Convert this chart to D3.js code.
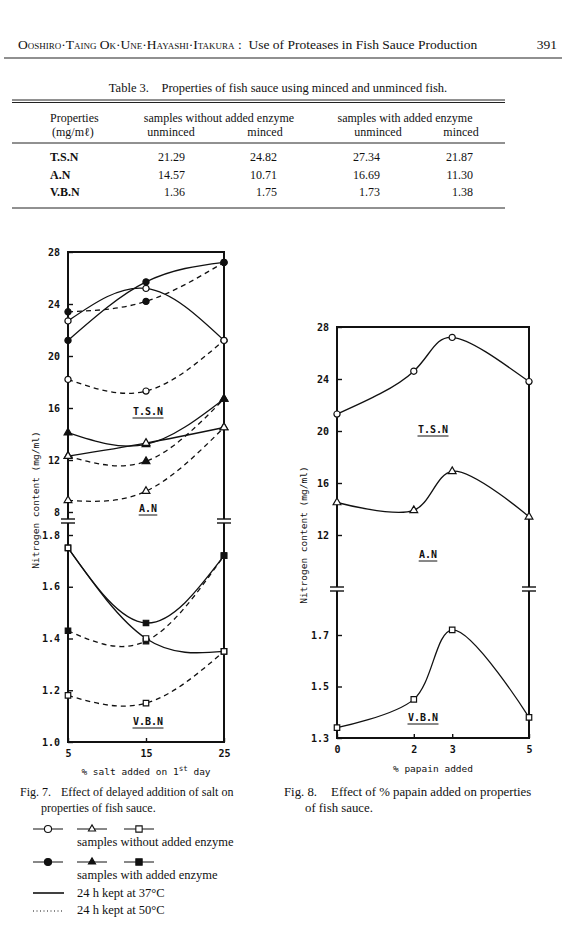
<!DOCTYPE html>
<html>
<head>
<meta charset="utf-8">
<script src="https://cdn.jsdelivr.net/npm/d3@7"></script>
<style>
body { margin: 0; background: #fff; }
text { fill: #111; white-space: pre; }
.serif { font-family: "Liberation Serif", "DejaVu Serif", serif; }
.mono { font-family: "DejaVu Sans Mono", "Liberation Mono", monospace; }
</style>
</head>
<body>
<script>
// ---- table 3 ----
var tableRows = ["T.S.N", "A.N", "V.B.N"];
var withoutUnminced = ["21.29", "14.57", "1.36"];
var withoutMinced = ["24.82", "10.71", "1.75"];
var withUnminced = ["27.34", "16.69", "1.73"];
var withMinced = ["21.87", "11.30", "1.38"];

// ---- fig 7 : % salt added on 1st day ----
var saltX = [5, 15, 25];
var tsnOpen37 = [22.7, 25.2, 21.2];
var tsnFilled37 = [21.2, 25.7, 27.2];
var tsnOpen50 = [18.2, 17.3, 21.2];
var tsnFilled50 = [23.4, 24.2, 27.2];
var anOpen37 = [12.3, 13.3, 14.5];
var anFilled37 = [14.1, 13.2, 16.7];
var anOpen50 = [8.9, 9.6, 14.5];
var anFilled50 = [12.3, 11.9, 16.7];
var vbnOpen37 = [1.75, 1.40, 1.35];
var vbnFilled37 = [1.75, 1.46, 1.72];
var vbnOpen50 = [1.18, 1.15, 1.35];
var vbnFilled50 = [1.43, 1.39, 1.72];
var fig7TopTicks = [8, 12, 16, 20, 24, 28];
var fig7BotTicks = [1.0, 1.2, 1.4, 1.6, 1.8];

// ---- fig 8 : % papain added ----
var papainX = [0, 2, 3, 5];
var tsnPapain = [21.3, 24.6, 27.2, 23.8];
var anPapain = [14.5, 13.9, 16.9, 13.4];
var vbnPapain = [1.34, 1.45, 1.72, 1.38];
var fig8TopTicks = [12, 16, 20, 24, 28];
var fig8BotTicks = [1.3, 1.5, 1.7];

var svg = d3.select("body").append("svg")
  .attr("width", 564)
  .attr("height", 927);

// header
var head = svg.append("text").attr("class", "serif")
  .attr("x", 18).attr("y", 49).style("font-size", "13.5px");
head.append("tspan").style("font-variant", "small-caps").text("Ooshiro·Taing Ok·Une·Hayashi·Itakura");
head.append("tspan").text(" :  Use of Proteases in Fish Sauce Production");
svg.append("text").attr("class", "serif").attr("x", 557).attr("y", 49)
  .attr("text-anchor", "end").style("font-size", "13.5px").text("391");
svg.append("line").attr("x1", 4).attr("x2", 562).attr("y1", 58).attr("y2", 58)
  .attr("stroke", "#222").attr("stroke-width", 1.2);

// table
svg.append("text").attr("class", "serif").attr("x", 278).attr("y", 92)
  .attr("text-anchor", "middle").style("font-size", "12.5px")
  .text("Table 3.    Properties of fish sauce using minced and unminced fish.");
[100, 102.5].forEach(function(y){
  svg.append("line").attr("x1", 12).attr("x2", 505).attr("y1", y).attr("y2", y)
    .attr("stroke", "#222").attr("stroke-width", 1);
});
[143, 208].forEach(function(y){
  svg.append("line").attr("x1", 12).attr("x2", 505).attr("y1", y).attr("y2", y)
    .attr("stroke", "#222").attr("stroke-width", 1);
});
var th = [
  ["Properties", 50, 122, "start"],
  ["(mg/m\u2113)", 52, 136, "start"],
  ["samples without added enzyme", 219, 122, "middle"],
  ["samples with added enzyme", 405, 122, "middle"],
  ["unminced", 171, 136, "middle"],
  ["minced", 265, 136, "middle"],
  ["unminced", 378, 136, "middle"],
  ["minced", 461, 136, "middle"]
];
svg.selectAll("text.th").data(th).enter().append("text")
  .attr("class", "serif th")
  .attr("x", function(d){ return d[1]; })
  .attr("y", function(d){ return d[2]; })
  .attr("text-anchor", function(d){ return d[3]; })
  .style("font-size", "12px")
  .text(function(d){ return d[0]; });

var rowY = d3.scalePoint().domain(tableRows).range([161, 196]);
var colRight = [185, 277, 380, 473];
var cols = [withoutUnminced, withoutMinced, withUnminced, withMinced];
tableRows.forEach(function(r, i){
  svg.append("text").attr("class", "serif").attr("x", 50).attr("y", rowY(r))
    .style("font-size", "12px").style("font-weight", "bold").text(r);
  cols.forEach(function(c, j){
    svg.append("text").attr("class", "serif").attr("x", colRight[j]).attr("y", rowY(r))
      .attr("text-anchor", "end").style("font-size", "12px").text(c[i]);
  });
});

// ---------- chart helpers ----------
function drawFrame(g, x0, x1, yTop, yBot, brk){
  var s = "#111";
  g.append("line").attr("x1", x0).attr("x2", x1).attr("y1", yTop).attr("y2", yTop).attr("stroke", s).attr("stroke-width", 2);
  g.append("line").attr("x1", x0).attr("x2", x1).attr("y1", yBot).attr("y2", yBot).attr("stroke", s).attr("stroke-width", 2);
  [x0, x1].forEach(function(x){
    g.append("line").attr("x1", x).attr("x2", x).attr("y1", yTop - 1).attr("y2", brk).attr("stroke", s).attr("stroke-width", 2);
    g.append("line").attr("x1", x).attr("x2", x).attr("y1", brk + 4).attr("y2", yBot + 1).attr("stroke", s).attr("stroke-width", 2);
    [brk, brk + 4].forEach(function(y){
      g.append("line").attr("x1", x - 7).attr("x2", x + 7).attr("y1", y).attr("y2", y).attr("stroke", s).attr("stroke-width", 1.4);
    });
  });
}

function styleAxis(a){
  a.select(".domain").remove();
  a.selectAll(".tick line").attr("stroke", "#111").attr("stroke-width", 1.4);
  a.selectAll(".tick text").attr("class", "mono").style("font-size", "10px").style("font-weight", "bold").attr("fill", "#222");
}

var symbolSize = { circle: 30, triangle: 26, square: 30 };
var symbolType = { circle: d3.symbolCircle, triangle: d3.symbolTriangle, square: d3.symbolSquare };

function drawSeries(g, xs, vals, xScale, yScale, shape, filled, dashed, curve){
  var pts = xs.map(function(x, i){ return [xScale(x), yScale(vals[i])]; });
  g.append("path").datum(pts)
    .attr("d", d3.line().curve(curve || d3.curveNatural))
    .attr("fill", "none").attr("stroke", "#111").attr("stroke-width", 1.3)
    .attr("stroke-dasharray", dashed ? "5,4" : null);
  return { pts: pts, shape: shape, filled: filled };
}

function drawMarkers(g, list){
  // filled first, open on top
  list.sort(function(a, b){ return (b.filled ? 1 : 0) - (a.filled ? 1 : 0); });
  list.forEach(function(s){
    g.selectAll(null).data(s.pts).enter().append("path")
      .attr("transform", function(d){ return "translate(" + d[0] + "," + d[1] + ")"; })
      .attr("d", d3.symbol().type(symbolType[s.shape]).size(symbolSize[s.shape]))
      .attr("fill", s.filled ? "#111" : "#fff")
      .attr("stroke", "#111").attr("stroke-width", 1.2);
  });
}

function groupLabel(g, x, y, t){
  g.append("text").attr("class", "mono").attr("x", x).attr("y", y)
    .attr("text-anchor", "middle").style("font-size", "10px").style("font-weight", "bold").text(t);
  var w = t.length * 6.2;
  g.append("line").attr("x1", x - w / 2).attr("x2", x + w / 2).attr("y1", y + 3).attr("y2", y + 3)
    .attr("stroke", "#111").attr("stroke-width", 1);
}

// ---------- Fig. 7 ----------
var g7 = svg.append("g");
var x7 = d3.scaleLinear().domain([5, 25]).range([68, 224]);
var y7top = d3.scaleLinear().domain([8, 28]).range([512, 252]);
var y7bot = d3.scaleLinear().domain([1.0, 1.8]).range([742, 535]);

var ax = g7.append("g").attr("transform", "translate(68,0)")
  .call(d3.axisLeft(y7top).tickValues(fig7TopTicks).tickSize(-5).tickPadding(8).tickFormat(d3.format("d")));
styleAxis(ax);
ax = g7.append("g").attr("transform", "translate(68,0)")
  .call(d3.axisLeft(y7bot).tickValues(fig7BotTicks).tickSize(-5).tickPadding(8).tickFormat(d3.format(".1f")));
styleAxis(ax);
ax = g7.append("g").attr("transform", "translate(0,742)")
  .call(d3.axisBottom(x7).tickValues(saltX).tickSize(-4).tickPadding(8).tickFormat(d3.format("d")));
styleAxis(ax);

var m7 = [];
m7.push(drawSeries(g7, saltX, tsnOpen37, x7, y7top, "circle", false, false));
m7.push(drawSeries(g7, saltX, tsnFilled37, x7, y7top, "circle", true, false, d3.curveMonotoneX));
m7.push(drawSeries(g7, saltX, tsnOpen50, x7, y7top, "circle", false, true));
m7.push(drawSeries(g7, saltX, tsnFilled50, x7, y7top, "circle", true, true));
m7.push(drawSeries(g7, saltX, anOpen37, x7, y7top, "triangle", false, false, d3.curveMonotoneX));
m7.push(drawSeries(g7, saltX, anFilled37, x7, y7top, "triangle", true, false));
m7.push(drawSeries(g7, saltX, anOpen50, x7, y7top, "triangle", false, true));
m7.push(drawSeries(g7, saltX, anFilled50, x7, y7top, "triangle", true, true));
m7.push(drawSeries(g7, saltX, vbnOpen37, x7, y7bot, "square", false, false));
m7.push(drawSeries(g7, saltX, vbnFilled37, x7, y7bot, "square", true, false));
m7.push(drawSeries(g7, saltX, vbnOpen50, x7, y7bot, "square", false, true));
m7.push(drawSeries(g7, saltX, vbnFilled50, x7, y7bot, "square", true, true));
drawFrame(g7, 68, 224, 252, 742, 519);
drawMarkers(g7, m7);

groupLabel(g7, 148, 415, "T.S.N");
groupLabel(g7, 148, 512, "A.N");
groupLabel(g7, 148, 725, "V.B.N");

g7.append("text").attr("class", "mono")
  .attr("transform", "translate(39,500) rotate(-90)")
  .attr("text-anchor", "middle").style("font-size", "9.5px")
  .text("Nitrogen content (mg/ml)");
var xl = g7.append("text").attr("class", "mono").attr("x", 146).attr("y", 775)
  .attr("text-anchor", "middle").style("font-size", "9.5px");
xl.append("tspan").text("% salt added on 1");
xl.append("tspan").attr("dy", -4).style("font-size", "7.5px").text("st");
xl.append("tspan").attr("dy", 4).text(" day");

// ---------- Fig. 8 ----------
var g8 = svg.append("g");
var x8 = d3.scaleLinear().domain([0, 5]).range([337, 529]);
var y8top = d3.scaleLinear().domain([8, 28]).range([587, 327]);
var y8bot = d3.scaleLinear().domain([1.3, 1.7]).range([738, 635]);

ax = g8.append("g").attr("transform", "translate(337,0)")
  .call(d3.axisLeft(y8top).tickValues(fig8TopTicks).tickSize(-5).tickPadding(8).tickFormat(d3.format("d")));
styleAxis(ax);
ax = g8.append("g").attr("transform", "translate(337,0)")
  .call(d3.axisLeft(y8bot).tickValues(fig8BotTicks).tickSize(-5).tickPadding(8).tickFormat(d3.format(".1f")));
styleAxis(ax);
ax = g8.append("g").attr("transform", "translate(0,738)")
  .call(d3.axisBottom(x8).tickValues(papainX).tickSize(-4).tickPadding(8).tickFormat(d3.format("d")));
styleAxis(ax);

var m8 = [];
m8.push(drawSeries(g8, papainX, tsnPapain, x8, y8top, "circle", false, false, d3.curveNatural));
m8.push(drawSeries(g8, papainX, anPapain, x8, y8top, "triangle", false, false, d3.curveCatmullRom));
m8.push(drawSeries(g8, papainX, vbnPapain, x8, y8bot, "square", false, false, d3.curveCatmullRom));
drawFrame(g8, 337, 529, 327, 738, 587);
drawMarkers(g8, m8);

groupLabel(g8, 433, 433, "T.S.N");
groupLabel(g8, 428, 558, "A.N");
groupLabel(g8, 423, 721, "V.B.N");

g8.append("text").attr("class", "mono")
  .attr("transform", "translate(307,535) rotate(-90)")
  .attr("text-anchor", "middle").style("font-size", "9.5px")
  .text("Nitrogen content (mg/ml)");
g8.append("text").attr("class", "mono").attr("x", 433).attr("y", 772)
  .attr("text-anchor", "middle").style("font-size", "9.5px").text("% papain added");

// ---------- captions ----------
function caption(x, y, size, parts){
  var t = svg.append("text").attr("class", "serif").attr("x", x).attr("y", y).style("font-size", size);
  parts.forEach(function(p){ t.append("tspan").attr("dx", p[1] || 0).text(p[0]); });
}
caption(20, 796, "12px", [["Fig. 7."], ["Effect of delayed addition of salt on", 10]]);
caption(41, 812, "12px", [["properties of fish sauce."]]);
caption(284, 796, "12.8px", [["Fig. 8."], ["Effect of % papain added on properties", 14]]);
caption(305, 812, "12.8px", [["of fish sauce."]]);

// legend
var legendShapes = ["circle", "triangle", "square"];
var legendX = [48, 92, 139];
var legendRows = [
  { y: 829, filled: false, text: "samples without added enzyme" },
  { y: 862, filled: true, text: "samples with added enzyme" }
];
legendRows.forEach(function(r){
  legendShapes.forEach(function(s, i){
    var cx = legendX[i];
    svg.append("line").attr("x1", cx - 15).attr("x2", cx + 15).attr("y1", r.y).attr("y2", r.y)
      .attr("stroke", "#111").attr("stroke-width", 1);
    svg.append("path").attr("transform", "translate(" + cx + "," + r.y + ")")
      .attr("d", d3.symbol().type(symbolType[s]).size(s === "triangle" ? 22 : 40))
      .attr("fill", r.filled ? "#111" : "#fff").attr("stroke", "#111").attr("stroke-width", 1.1);
  });
  svg.append("text").attr("class", "serif").attr("x", 77).attr("y", r.y + 17)
    .style("font-size", "12.5px").text(r.text);
});
svg.append("line").attr("x1", 33).attr("x2", 64).attr("y1", 893).attr("y2", 893)
  .attr("stroke", "#111").attr("stroke-width", 1.6);
svg.append("text").attr("class", "serif").attr("x", 77).attr("y", 897)
  .style("font-size", "12.5px").text("24 h kept at 37°C");
svg.append("line").attr("x1", 33).attr("x2", 64).attr("y1", 911).attr("y2", 911)
  .attr("stroke", "#111").attr("stroke-width", 1).attr("stroke-dasharray", "1,2.5");
svg.append("text").attr("class", "serif").attr("x", 77).attr("y", 914)
  .style("font-size", "12.5px").text("24 h kept at 50°C");
</script>
</body>
</html>
